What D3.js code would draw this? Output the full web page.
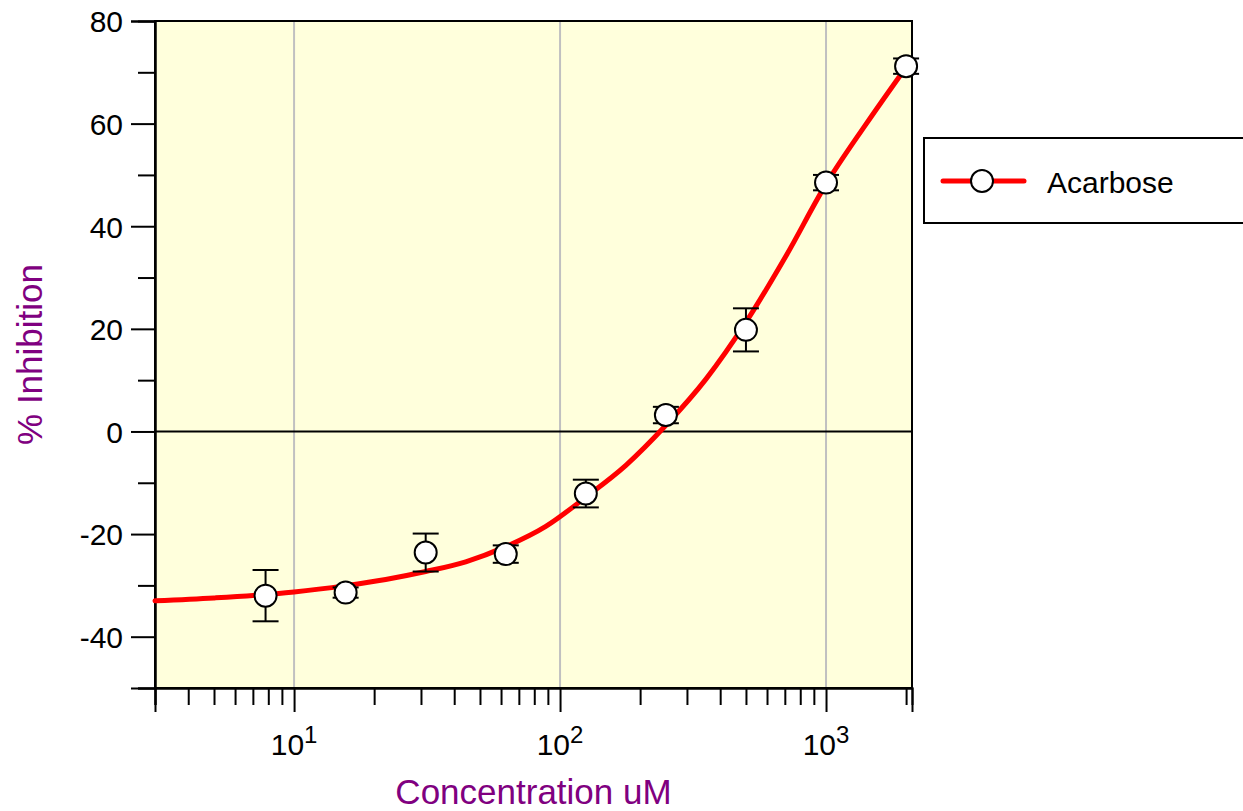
<!DOCTYPE html>
<html>
<head>
<meta charset="utf-8">
<script src="https://cdn.jsdelivr.net/npm/d3@7"></script>
<style>
  html, body { margin: 0; padding: 0; background: #ffffff; }
  svg { display: block; font-family: "Liberation Sans", Arial, sans-serif; }
</style>
</head>
<body>
<svg id="chart" width="1243" height="811"></svg>
<script>
// ---- data ----
const concentrations = [7.8125, 15.625, 31.25, 62.5, 125, 250, 500, 1000, 2000];
const inhibition     = [-32.0, -31.4, -23.6, -23.9, -12.1, 3.2, 19.8, 48.5, 71.2];
const errors         = [5.0, 1.0, 3.7, 1.7, 2.7, 1.6, 4.2, 1.5, 1.5];

// fitted curve
const fitConc  = [3, 5, 10, 15.625, 22.1, 31.25, 44.2, 62.5, 88.4, 125, 176.8, 250, 353.6, 500, 707, 1000, 1414, 2000];
const fitValue = [-33.0, -32.45, -31.3, -30.05, -28.85, -27.3, -25.4, -22.45, -18.5, -12.8, -6.6, 1.2, 10.2, 21.3, 34.2, 48.2, 59.9, 71.0];

const yMajorTicks = [-40, -20, 0, 20, 40, 60, 80];
const yMinorTicks = [-50, -30, -10, 10, 30, 50, 70];
const xMajorTicks = [10, 100, 1000];
const xMajorLabels = [["10", "1"], ["10", "2"], ["10", "3"]];
const xMinorTicks = [3, 4, 5, 6, 7, 8, 9, 20, 30, 40, 50, 60, 70, 80, 90, 200, 300, 400, 500, 600, 700, 800, 900, 2000];
const seriesName = "Acarbose";
const xTitle = "Concentration uM";
const yTitle = "% Inhibition";

// ---- layout ----
const L = 155, R = 912, T = 21, B = 688;
const svg = d3.select("#chart");
const x = d3.scaleLog().domain([3, 2105]).range([L, R]);
const y = d3.scaleLinear().domain([-50, 80]).range([B, T]);

// plot background
svg.append("rect").attr("x", L).attr("y", T).attr("width", R - L).attr("height", B - T)
  .attr("fill", "#ffffdc");

// vertical grid lines at decades
svg.append("g").selectAll("line").data(xMajorTicks).join("line")
  .attr("x1", d => x(d)).attr("x2", d => x(d)).attr("y1", T).attr("y2", B)
  .attr("stroke", "#c0c0c0").attr("stroke-width", 2);

// zero line
svg.append("line").attr("x1", L).attr("x2", R).attr("y1", y(0)).attr("y2", y(0))
  .attr("stroke", "#000").attr("stroke-width", 2);

// frame
svg.append("rect").attr("x", L).attr("y", T).attr("width", R - L).attr("height", B - T)
  .attr("fill", "none").attr("stroke", "#000").attr("stroke-width", 2);

// Y axis
const yAxisMajor = d3.axisLeft(y).tickValues(yMajorTicks).tickSize(24).tickPadding(8).tickFormat(d => String(d));
const gy = svg.append("g").attr("transform", `translate(${L},0)`).call(yAxisMajor);
const yAxisMinor = d3.axisLeft(y).tickValues(yMinorTicks).tickSize(17).tickFormat("");
const gy2 = svg.append("g").attr("transform", `translate(${L},0)`).call(yAxisMinor);
[gy, gy2].forEach(g => {
  g.select(".domain").attr("stroke", "#000").attr("stroke-width", 2);
  g.selectAll(".tick line").attr("stroke", "#000").attr("stroke-width", 2);
});
gy.selectAll(".tick text").attr("font-size", 30).attr("fill", "#000")
  .attr("font-family", "'Liberation Sans', Arial, sans-serif").attr("dy", "0.36em");

// X axis
const xAxisMajor = d3.axisBottom(x).tickValues(xMajorTicks).tickSize(24).tickFormat("");
const gx = svg.append("g").attr("transform", `translate(0,${B})`).call(xAxisMajor);
const xAxisMinor = d3.axisBottom(x).tickValues(xMinorTicks).tickSize(17).tickFormat("");
const gx2 = svg.append("g").attr("transform", `translate(0,${B})`).call(xAxisMinor);
[gx, gx2].forEach(g => {
  g.select(".domain").attr("stroke", "#000").attr("stroke-width", 2);
  g.selectAll(".tick line").attr("stroke", "#000").attr("stroke-width", 2);
});
const xl = svg.append("g").selectAll("text").data(xMajorTicks).join("text")
  .attr("x", d => x(d)).attr("y", 755).attr("text-anchor", "middle")
  .attr("font-size", 30).attr("fill", "#000");
xl.append("tspan").text((d, i) => xMajorLabels[i][0]);
xl.append("tspan").attr("font-size", 24).attr("dy", -12).text((d, i) => xMajorLabels[i][1]);

// axis titles
svg.append("text").attr("x", (L + R) / 2).attr("y", 804).attr("text-anchor", "middle")
  .attr("font-size", 35).attr("fill", "#800080").text(xTitle);
svg.append("text").attr("transform", `translate(42,${(T + B) / 2}) rotate(-90)`)
  .attr("text-anchor", "middle").attr("font-size", 35).attr("fill", "#800080").text(yTitle);

// fitted curve
const fit = fitConc.map((c, i) => [c, fitValue[i]]);
const line = d3.line().x(d => x(d[0])).y(d => y(d[1])).curve(d3.curveMonotoneX);
svg.append("path").datum(fit).attr("d", line).attr("fill", "none")
  .attr("stroke", "#ff0000").attr("stroke-width", 5).attr("stroke-linecap", "round");

// error bars
const pts = concentrations.map((c, i) => ({ c, v: inhibition[i], e: errors[i] }));
const eb = svg.append("g").attr("stroke", "#000").attr("stroke-width", 2);
eb.selectAll("line.v").data(pts).join("line").attr("class", "v")
  .attr("x1", d => x(d.c)).attr("x2", d => x(d.c))
  .attr("y1", d => y(d.v + d.e)).attr("y2", d => y(d.v - d.e));
eb.selectAll("line.t").data(pts).join("line").attr("class", "t")
  .attr("x1", d => x(d.c) - 13).attr("x2", d => x(d.c) + 13)
  .attr("y1", d => y(d.v + d.e)).attr("y2", d => y(d.v + d.e));
eb.selectAll("line.b").data(pts).join("line").attr("class", "b")
  .attr("x1", d => x(d.c) - 13).attr("x2", d => x(d.c) + 13)
  .attr("y1", d => y(d.v - d.e)).attr("y2", d => y(d.v - d.e));

// points
svg.append("g").selectAll("circle").data(pts).join("circle")
  .attr("cx", d => x(d.c)).attr("cy", d => y(d.v)).attr("r", 11)
  .attr("fill", "#fff").attr("stroke", "#000").attr("stroke-width", 2);

// legend
const lg = svg.append("g");
lg.append("rect").attr("x", 924).attr("y", 138).attr("width", 340).attr("height", 85)
  .attr("fill", "#fff").attr("stroke", "#000").attr("stroke-width", 2);
lg.append("line").attr("x1", 943).attr("x2", 1024).attr("y1", 181).attr("y2", 181)
  .attr("stroke", "#ff0000").attr("stroke-width", 5).attr("stroke-linecap", "round");
lg.append("circle").attr("cx", 982).attr("cy", 181).attr("r", 11)
  .attr("fill", "#fff").attr("stroke", "#000").attr("stroke-width", 2);
lg.append("text").attr("x", 1047).attr("y", 193).attr("font-size", 30).attr("fill", "#000").text(seriesName);
</script>
</body>
</html>
